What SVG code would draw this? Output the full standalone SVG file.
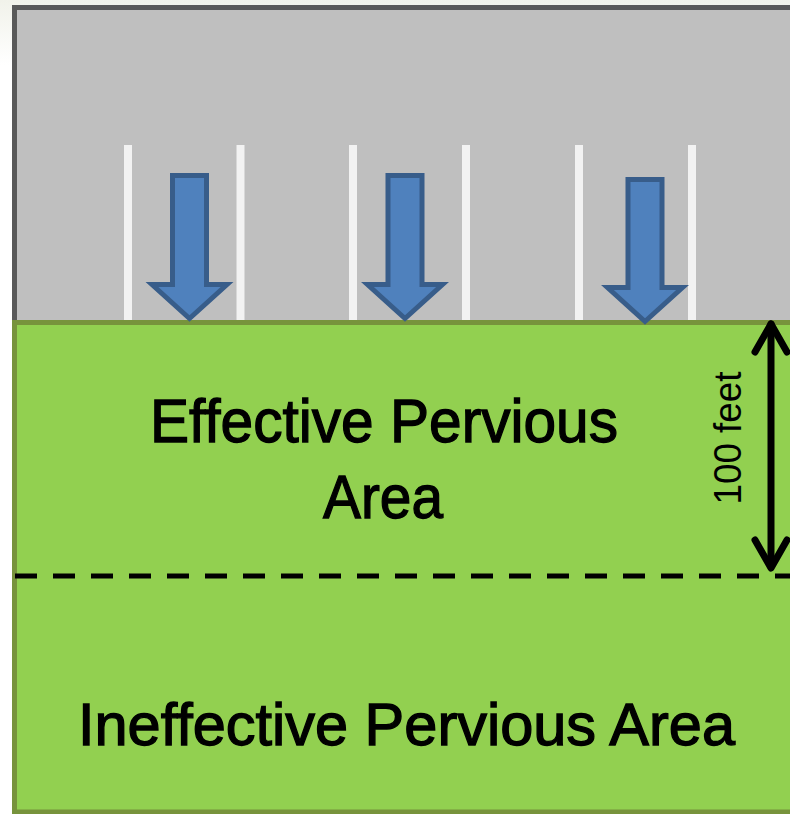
<svg xmlns="http://www.w3.org/2000/svg" width="790" height="814" viewBox="0 0 790 814">
  <defs>
    <linearGradient id="bg" x1="0" y1="0" x2="0" y2="1">
      <stop offset="0" stop-color="#f1f2ea"/>
      <stop offset="0.08" stop-color="#ffffff"/>
      <stop offset="1" stop-color="#ffffff"/>
    </linearGradient>
    <style>
      .lot { fill: #bfbfbf; stroke: #595959; stroke-width: 5; }
      .grass { fill: #92d050; stroke: #77933c; stroke-width: 5; }
      .stripe { stroke: #f2f2f2; stroke-width: 8; }
      .flow { fill: #4f81bd; stroke: #385d8a; stroke-width: 5; stroke-linejoin: miter; }
      .big { font-family: "Liberation Sans", Arial, sans-serif; font-size: 62px; fill: #000; stroke: #000; stroke-width: 1.3px; text-anchor: middle; }
      .dim { font-family: "Liberation Sans", Arial, sans-serif; font-size: 38px; fill: #000; text-anchor: middle; }
      .dash { stroke: #000; stroke-width: 5; stroke-dasharray: 22 16; fill: none; }
      .darrow { stroke: #000; stroke-width: 7; fill: none; stroke-linecap: round; stroke-linejoin: round; }
    </style>
  </defs>

  <rect x="0" y="0" width="790" height="814" fill="url(#bg)"/>

  <g id="parking-lot">
    <rect class="lot" x="14.5" y="7.5" width="800" height="320"/>
    <g id="stripes">
      <line class="stripe" x1="128" y1="145" x2="128" y2="322"/>
      <line class="stripe" x1="240.5" y1="145" x2="240.5" y2="322"/>
      <line class="stripe" x1="353" y1="145" x2="353" y2="322"/>
      <line class="stripe" x1="466" y1="145" x2="466" y2="322"/>
      <line class="stripe" x1="579" y1="145" x2="579" y2="322"/>
      <line class="stripe" x1="692" y1="145" x2="692" y2="322"/>
    </g>
  </g>

  <g id="pervious-area">
    <rect class="grass" x="14.5" y="322.5" width="800" height="489.5"/>
  </g>

  <g id="flow-arrows">
    <path id="arrow1" class="flow" d="M172.5 175.5 H206.5 V284.5 H227 L189.5 318.5 L152 284.5 H172.5 Z"/>
    <path id="arrow2" class="flow" d="M388 175.5 H422 V284.5 H442.5 L405 318.5 L367.5 284.5 H388 Z"/>
    <path id="arrow3" class="flow" d="M628 179.5 H662 V287.5 H682.5 L645 321.5 L607.5 287.5 H628 Z"/>
  </g>

  <g id="connectors">
    <line class="dash" x1="15" y1="576" x2="790" y2="576"/>
    <g id="dimension-arrow">
      <line class="darrow" x1="771" y1="324" x2="771" y2="566"/>
      <polyline class="darrow" points="755,352 771,324 787,352"/>
      <polyline class="darrow" points="755,540 771,568 787,540"/>
    </g>
  </g>

  <g id="labels">
    <text class="big" x="384" y="442" textLength="468" lengthAdjust="spacingAndGlyphs">Effective Pervious</text>
    <text class="big" x="383" y="518" textLength="120" lengthAdjust="spacingAndGlyphs">Area</text>
    <text class="big" x="406.5" y="745" style="font-size:59px" textLength="657" lengthAdjust="spacingAndGlyphs">Ineffective Pervious Area</text>
    <text class="dim" transform="translate(741 438) rotate(-90)" x="0" y="0" textLength="133" lengthAdjust="spacingAndGlyphs">100 feet</text>
  </g>
</svg>
